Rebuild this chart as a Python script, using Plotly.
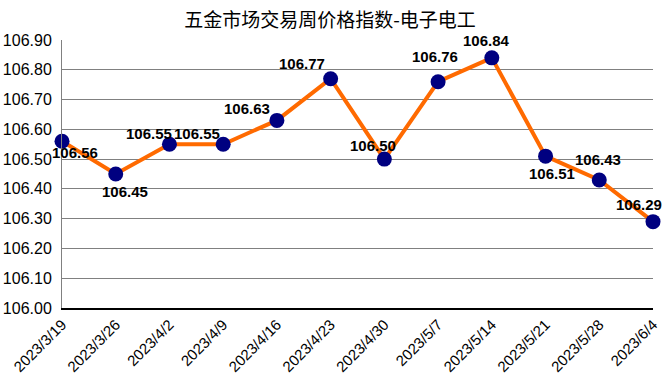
import plotly.graph_objects as go

dates = ["2023/3/19", "2023/3/26", "2023/4/2", "2023/4/9", "2023/4/16", "2023/4/23",
         "2023/4/30", "2023/5/7", "2023/5/14", "2023/5/21", "2023/5/28", "2023/6/4"]
values = [106.56, 106.45, 106.55, 106.55, 106.63, 106.77,
          106.50, 106.76, 106.84, 106.51, 106.43, 106.29]
y_ticks = [106.00, 106.10, 106.20, 106.30, 106.40, 106.50, 106.60, 106.70, 106.80, 106.90]

# label offsets in pixels (dx right, dy down)
label_dx = [13, 9, -20, -26, -30, -29, -11, -3, -5, 6, -1, -14]
label_dy = [11, 17, -11, -11, -12, -15, -14, -25, -17, 17, -20, -17]

xs = list(range(len(dates)))

fig = go.Figure()
fig.add_trace(go.Scatter(
    x=xs, y=values, mode="lines+markers",
    line=dict(color="#FF6A00", width=4),
    marker=dict(color="#000080", size=15),
    cliponaxis=False, showlegend=False, hoverinfo="skip"))

for i, v in enumerate(values):
    fig.add_annotation(x=xs[i], y=v, xref="x", yref="y", text="<b>%.2f</b>" % v,
                       showarrow=False, xshift=label_dx[i], yshift=-label_dy[i],
                       font=dict(family="Liberation Sans, Arial", size=15, color="black"))

fig.update_layout(
    width=666, height=392,
    margin=dict(l=62, r=13, t=40, b=84),
    paper_bgcolor="white", plot_bgcolor="white",
    title=dict(text="五金市场交易周价格指数-电子电工", x=0.4955, xanchor="center",
               y=0.948, yanchor="middle",
               font=dict(family="Noto Sans CJK SC", size=19, color="black")),
    xaxis=dict(range=[0, len(dates) - 1], tickmode="array", tickvals=xs, ticktext=dates,
               tickangle=-45, showgrid=False, showline=True, linecolor="black", linewidth=2,
               ticks="", zeroline=False, automargin=False,
               tickfont=dict(family="Liberation Sans, Arial", size=15, color="black")),
    yaxis=dict(range=[106.0, 106.9], tickmode="array", tickvals=y_ticks,
               ticktext=["%.2f" % t for t in y_ticks], ticklabelstandoff=6,
               showgrid=True, gridcolor="#808080", gridwidth=1, automargin=False,
               showline=True, linecolor="#808080", linewidth=1, ticks="", zeroline=False,
               tickfont=dict(family="Liberation Sans, Arial", size=16, color="black")),
)

fig.write_html("out.html", config={"displayModeBar": False},
               post_script="document.body.style.margin='0px';document.body.style.overflow='hidden';")
